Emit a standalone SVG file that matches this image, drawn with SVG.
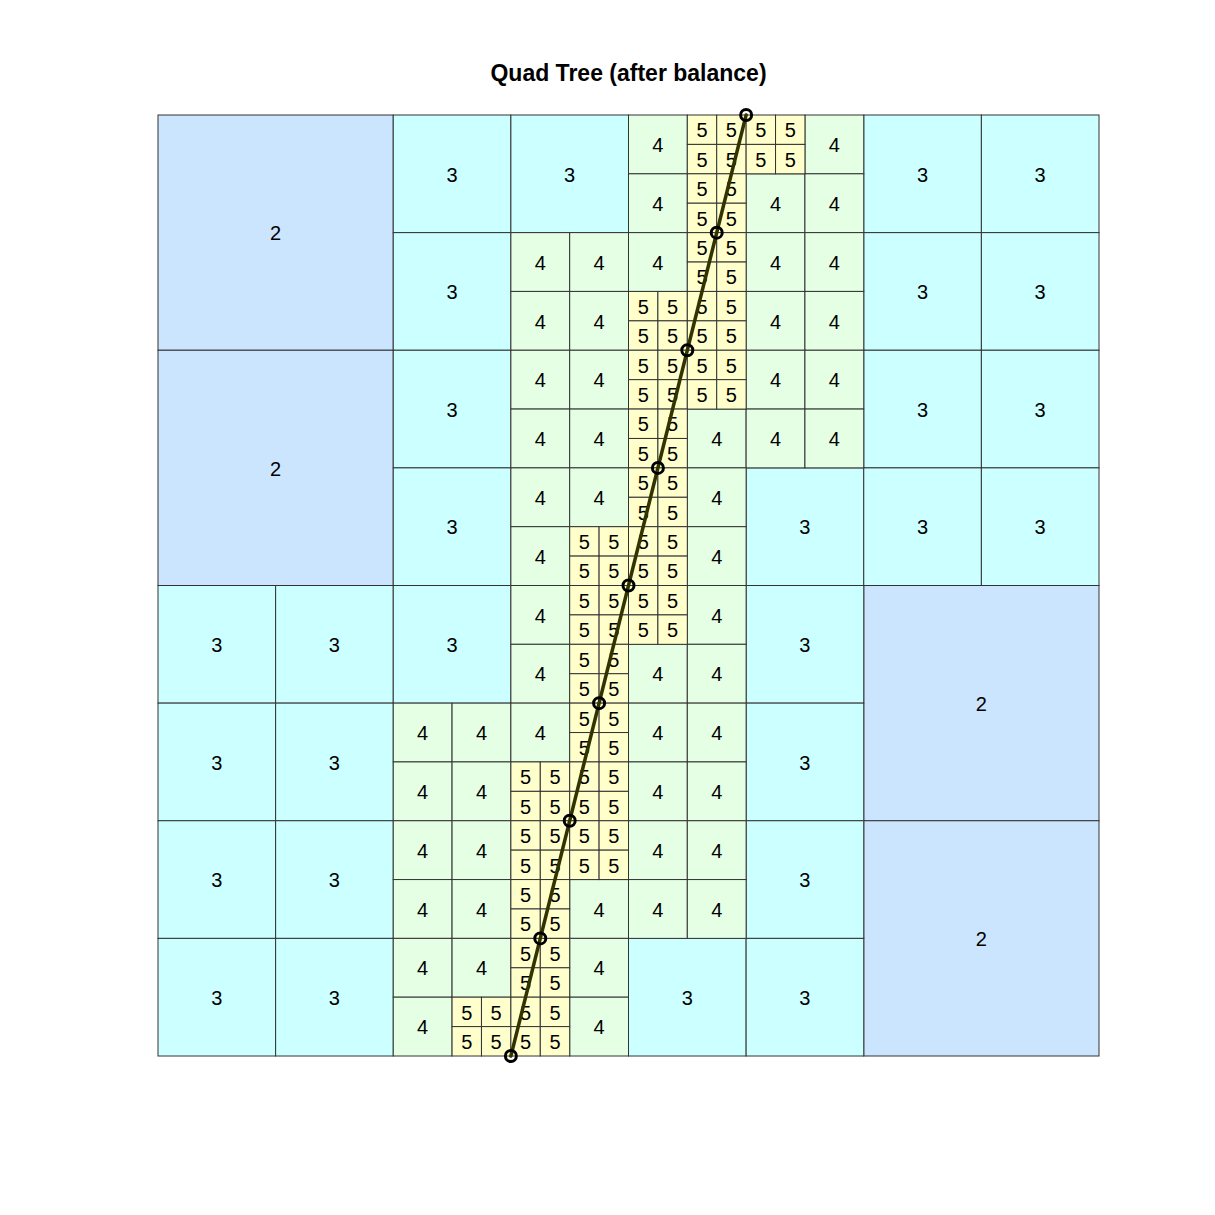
<svg xmlns="http://www.w3.org/2000/svg" width="1215" height="1215" viewBox="0 0 1215 1215">
<style>
text{font-family:"Liberation Sans",Arial,sans-serif;font-size:20px;text-anchor:middle;fill:#000}
.title{font-size:23px;font-weight:bold}
.cell{stroke:#333;stroke-width:1}
.bg{fill:#fff;stroke:none}
.l2{fill:#cce5ff}.l3{fill:#ccffff}.l4{fill:#e5ffe5}.l5{fill:#ffffcc}
.path{fill:none;stroke:#333300;stroke-width:3.5;stroke-linecap:round}
.pt{fill:none;stroke:#000;stroke-width:3}
</style>
<rect class="bg" x="0" y="0" width="1215" height="1215"/>
<text class="title" x="628.5" y="81">Quad Tree (after balance)</text>
<g id="level2">
<g id="n2_0_0" transform="translate(158,115)"><rect class="cell l2" width="235.25" height="235.25"/><text x="117.63" y="125.33">2</text></g>
<g id="n2_0_8" transform="translate(158,350.25)"><rect class="cell l2" width="235.25" height="235.25"/><text x="117.63" y="125.33">2</text></g>
<g id="n2_24_16" transform="translate(863.75,585.5)"><rect class="cell l2" width="235.25" height="235.25"/><text x="117.63" y="125.33">2</text></g>
<g id="n2_24_24" transform="translate(863.75,820.75)"><rect class="cell l2" width="235.25" height="235.25"/><text x="117.63" y="125.33">2</text></g>
</g>
<g id="level3">
<g id="n3_8_0" transform="translate(393.25,115)"><rect class="cell l3" width="117.63" height="117.63"/><text x="58.81" y="66.51">3</text></g>
<g id="n3_12_0" transform="translate(510.88,115)"><rect class="cell l3" width="117.63" height="117.63"/><text x="58.81" y="66.51">3</text></g>
<g id="n3_24_0" transform="translate(863.75,115)"><rect class="cell l3" width="117.63" height="117.63"/><text x="58.81" y="66.51">3</text></g>
<g id="n3_28_0" transform="translate(981.38,115)"><rect class="cell l3" width="117.63" height="117.63"/><text x="58.81" y="66.51">3</text></g>
<g id="n3_8_4" transform="translate(393.25,232.63)"><rect class="cell l3" width="117.63" height="117.63"/><text x="58.81" y="66.51">3</text></g>
<g id="n3_24_4" transform="translate(863.75,232.63)"><rect class="cell l3" width="117.63" height="117.63"/><text x="58.81" y="66.51">3</text></g>
<g id="n3_28_4" transform="translate(981.38,232.63)"><rect class="cell l3" width="117.63" height="117.63"/><text x="58.81" y="66.51">3</text></g>
<g id="n3_8_8" transform="translate(393.25,350.25)"><rect class="cell l3" width="117.63" height="117.63"/><text x="58.81" y="66.51">3</text></g>
<g id="n3_24_8" transform="translate(863.75,350.25)"><rect class="cell l3" width="117.63" height="117.63"/><text x="58.81" y="66.51">3</text></g>
<g id="n3_28_8" transform="translate(981.38,350.25)"><rect class="cell l3" width="117.63" height="117.63"/><text x="58.81" y="66.51">3</text></g>
<g id="n3_8_12" transform="translate(393.25,467.88)"><rect class="cell l3" width="117.63" height="117.63"/><text x="58.81" y="66.51">3</text></g>
<g id="n3_20_12" transform="translate(746.13,467.88)"><rect class="cell l3" width="117.63" height="117.63"/><text x="58.81" y="66.51">3</text></g>
<g id="n3_24_12" transform="translate(863.75,467.88)"><rect class="cell l3" width="117.63" height="117.63"/><text x="58.81" y="66.51">3</text></g>
<g id="n3_28_12" transform="translate(981.38,467.88)"><rect class="cell l3" width="117.63" height="117.63"/><text x="58.81" y="66.51">3</text></g>
<g id="n3_0_16" transform="translate(158,585.5)"><rect class="cell l3" width="117.63" height="117.63"/><text x="58.81" y="66.51">3</text></g>
<g id="n3_4_16" transform="translate(275.63,585.5)"><rect class="cell l3" width="117.63" height="117.63"/><text x="58.81" y="66.51">3</text></g>
<g id="n3_8_16" transform="translate(393.25,585.5)"><rect class="cell l3" width="117.63" height="117.63"/><text x="58.81" y="66.51">3</text></g>
<g id="n3_20_16" transform="translate(746.13,585.5)"><rect class="cell l3" width="117.63" height="117.63"/><text x="58.81" y="66.51">3</text></g>
<g id="n3_0_20" transform="translate(158,703.13)"><rect class="cell l3" width="117.63" height="117.63"/><text x="58.81" y="66.51">3</text></g>
<g id="n3_4_20" transform="translate(275.63,703.13)"><rect class="cell l3" width="117.63" height="117.63"/><text x="58.81" y="66.51">3</text></g>
<g id="n3_20_20" transform="translate(746.13,703.13)"><rect class="cell l3" width="117.63" height="117.63"/><text x="58.81" y="66.51">3</text></g>
<g id="n3_0_24" transform="translate(158,820.75)"><rect class="cell l3" width="117.63" height="117.63"/><text x="58.81" y="66.51">3</text></g>
<g id="n3_4_24" transform="translate(275.63,820.75)"><rect class="cell l3" width="117.63" height="117.63"/><text x="58.81" y="66.51">3</text></g>
<g id="n3_20_24" transform="translate(746.13,820.75)"><rect class="cell l3" width="117.63" height="117.63"/><text x="58.81" y="66.51">3</text></g>
<g id="n3_0_28" transform="translate(158,938.38)"><rect class="cell l3" width="117.63" height="117.63"/><text x="58.81" y="66.51">3</text></g>
<g id="n3_4_28" transform="translate(275.63,938.38)"><rect class="cell l3" width="117.63" height="117.63"/><text x="58.81" y="66.51">3</text></g>
<g id="n3_16_28" transform="translate(628.5,938.38)"><rect class="cell l3" width="117.63" height="117.63"/><text x="58.81" y="66.51">3</text></g>
<g id="n3_20_28" transform="translate(746.13,938.38)"><rect class="cell l3" width="117.63" height="117.63"/><text x="58.81" y="66.51">3</text></g>
</g>
<g id="level4">
<g id="n4_16_0" transform="translate(628.5,115)"><rect class="cell l4" width="58.81" height="58.81"/><text x="29.41" y="37.11">4</text></g>
<g id="n4_22_0" transform="translate(804.94,115)"><rect class="cell l4" width="58.81" height="58.81"/><text x="29.41" y="37.11">4</text></g>
<g id="n4_16_2" transform="translate(628.5,173.81)"><rect class="cell l4" width="58.81" height="58.81"/><text x="29.41" y="37.11">4</text></g>
<g id="n4_20_2" transform="translate(746.13,173.81)"><rect class="cell l4" width="58.81" height="58.81"/><text x="29.41" y="37.11">4</text></g>
<g id="n4_22_2" transform="translate(804.94,173.81)"><rect class="cell l4" width="58.81" height="58.81"/><text x="29.41" y="37.11">4</text></g>
<g id="n4_12_4" transform="translate(510.88,232.63)"><rect class="cell l4" width="58.81" height="58.81"/><text x="29.41" y="37.11">4</text></g>
<g id="n4_14_4" transform="translate(569.69,232.63)"><rect class="cell l4" width="58.81" height="58.81"/><text x="29.41" y="37.11">4</text></g>
<g id="n4_16_4" transform="translate(628.5,232.63)"><rect class="cell l4" width="58.81" height="58.81"/><text x="29.41" y="37.11">4</text></g>
<g id="n4_20_4" transform="translate(746.13,232.63)"><rect class="cell l4" width="58.81" height="58.81"/><text x="29.41" y="37.11">4</text></g>
<g id="n4_22_4" transform="translate(804.94,232.63)"><rect class="cell l4" width="58.81" height="58.81"/><text x="29.41" y="37.11">4</text></g>
<g id="n4_12_6" transform="translate(510.88,291.44)"><rect class="cell l4" width="58.81" height="58.81"/><text x="29.41" y="37.11">4</text></g>
<g id="n4_14_6" transform="translate(569.69,291.44)"><rect class="cell l4" width="58.81" height="58.81"/><text x="29.41" y="37.11">4</text></g>
<g id="n4_20_6" transform="translate(746.13,291.44)"><rect class="cell l4" width="58.81" height="58.81"/><text x="29.41" y="37.11">4</text></g>
<g id="n4_22_6" transform="translate(804.94,291.44)"><rect class="cell l4" width="58.81" height="58.81"/><text x="29.41" y="37.11">4</text></g>
<g id="n4_12_8" transform="translate(510.88,350.25)"><rect class="cell l4" width="58.81" height="58.81"/><text x="29.41" y="37.11">4</text></g>
<g id="n4_14_8" transform="translate(569.69,350.25)"><rect class="cell l4" width="58.81" height="58.81"/><text x="29.41" y="37.11">4</text></g>
<g id="n4_20_8" transform="translate(746.13,350.25)"><rect class="cell l4" width="58.81" height="58.81"/><text x="29.41" y="37.11">4</text></g>
<g id="n4_22_8" transform="translate(804.94,350.25)"><rect class="cell l4" width="58.81" height="58.81"/><text x="29.41" y="37.11">4</text></g>
<g id="n4_12_10" transform="translate(510.88,409.06)"><rect class="cell l4" width="58.81" height="58.81"/><text x="29.41" y="37.11">4</text></g>
<g id="n4_14_10" transform="translate(569.69,409.06)"><rect class="cell l4" width="58.81" height="58.81"/><text x="29.41" y="37.11">4</text></g>
<g id="n4_18_10" transform="translate(687.31,409.06)"><rect class="cell l4" width="58.81" height="58.81"/><text x="29.41" y="37.11">4</text></g>
<g id="n4_20_10" transform="translate(746.13,409.06)"><rect class="cell l4" width="58.81" height="58.81"/><text x="29.41" y="37.11">4</text></g>
<g id="n4_22_10" transform="translate(804.94,409.06)"><rect class="cell l4" width="58.81" height="58.81"/><text x="29.41" y="37.11">4</text></g>
<g id="n4_12_12" transform="translate(510.88,467.88)"><rect class="cell l4" width="58.81" height="58.81"/><text x="29.41" y="37.11">4</text></g>
<g id="n4_14_12" transform="translate(569.69,467.88)"><rect class="cell l4" width="58.81" height="58.81"/><text x="29.41" y="37.11">4</text></g>
<g id="n4_18_12" transform="translate(687.31,467.88)"><rect class="cell l4" width="58.81" height="58.81"/><text x="29.41" y="37.11">4</text></g>
<g id="n4_12_14" transform="translate(510.88,526.69)"><rect class="cell l4" width="58.81" height="58.81"/><text x="29.41" y="37.11">4</text></g>
<g id="n4_18_14" transform="translate(687.31,526.69)"><rect class="cell l4" width="58.81" height="58.81"/><text x="29.41" y="37.11">4</text></g>
<g id="n4_12_16" transform="translate(510.88,585.5)"><rect class="cell l4" width="58.81" height="58.81"/><text x="29.41" y="37.11">4</text></g>
<g id="n4_18_16" transform="translate(687.31,585.5)"><rect class="cell l4" width="58.81" height="58.81"/><text x="29.41" y="37.11">4</text></g>
<g id="n4_12_18" transform="translate(510.88,644.31)"><rect class="cell l4" width="58.81" height="58.81"/><text x="29.41" y="37.11">4</text></g>
<g id="n4_16_18" transform="translate(628.5,644.31)"><rect class="cell l4" width="58.81" height="58.81"/><text x="29.41" y="37.11">4</text></g>
<g id="n4_18_18" transform="translate(687.31,644.31)"><rect class="cell l4" width="58.81" height="58.81"/><text x="29.41" y="37.11">4</text></g>
<g id="n4_8_20" transform="translate(393.25,703.13)"><rect class="cell l4" width="58.81" height="58.81"/><text x="29.41" y="37.11">4</text></g>
<g id="n4_10_20" transform="translate(452.06,703.13)"><rect class="cell l4" width="58.81" height="58.81"/><text x="29.41" y="37.11">4</text></g>
<g id="n4_12_20" transform="translate(510.88,703.13)"><rect class="cell l4" width="58.81" height="58.81"/><text x="29.41" y="37.11">4</text></g>
<g id="n4_16_20" transform="translate(628.5,703.13)"><rect class="cell l4" width="58.81" height="58.81"/><text x="29.41" y="37.11">4</text></g>
<g id="n4_18_20" transform="translate(687.31,703.13)"><rect class="cell l4" width="58.81" height="58.81"/><text x="29.41" y="37.11">4</text></g>
<g id="n4_8_22" transform="translate(393.25,761.94)"><rect class="cell l4" width="58.81" height="58.81"/><text x="29.41" y="37.11">4</text></g>
<g id="n4_10_22" transform="translate(452.06,761.94)"><rect class="cell l4" width="58.81" height="58.81"/><text x="29.41" y="37.11">4</text></g>
<g id="n4_16_22" transform="translate(628.5,761.94)"><rect class="cell l4" width="58.81" height="58.81"/><text x="29.41" y="37.11">4</text></g>
<g id="n4_18_22" transform="translate(687.31,761.94)"><rect class="cell l4" width="58.81" height="58.81"/><text x="29.41" y="37.11">4</text></g>
<g id="n4_8_24" transform="translate(393.25,820.75)"><rect class="cell l4" width="58.81" height="58.81"/><text x="29.41" y="37.11">4</text></g>
<g id="n4_10_24" transform="translate(452.06,820.75)"><rect class="cell l4" width="58.81" height="58.81"/><text x="29.41" y="37.11">4</text></g>
<g id="n4_16_24" transform="translate(628.5,820.75)"><rect class="cell l4" width="58.81" height="58.81"/><text x="29.41" y="37.11">4</text></g>
<g id="n4_18_24" transform="translate(687.31,820.75)"><rect class="cell l4" width="58.81" height="58.81"/><text x="29.41" y="37.11">4</text></g>
<g id="n4_8_26" transform="translate(393.25,879.56)"><rect class="cell l4" width="58.81" height="58.81"/><text x="29.41" y="37.11">4</text></g>
<g id="n4_10_26" transform="translate(452.06,879.56)"><rect class="cell l4" width="58.81" height="58.81"/><text x="29.41" y="37.11">4</text></g>
<g id="n4_14_26" transform="translate(569.69,879.56)"><rect class="cell l4" width="58.81" height="58.81"/><text x="29.41" y="37.11">4</text></g>
<g id="n4_16_26" transform="translate(628.5,879.56)"><rect class="cell l4" width="58.81" height="58.81"/><text x="29.41" y="37.11">4</text></g>
<g id="n4_18_26" transform="translate(687.31,879.56)"><rect class="cell l4" width="58.81" height="58.81"/><text x="29.41" y="37.11">4</text></g>
<g id="n4_8_28" transform="translate(393.25,938.38)"><rect class="cell l4" width="58.81" height="58.81"/><text x="29.41" y="37.11">4</text></g>
<g id="n4_10_28" transform="translate(452.06,938.38)"><rect class="cell l4" width="58.81" height="58.81"/><text x="29.41" y="37.11">4</text></g>
<g id="n4_14_28" transform="translate(569.69,938.38)"><rect class="cell l4" width="58.81" height="58.81"/><text x="29.41" y="37.11">4</text></g>
<g id="n4_8_30" transform="translate(393.25,997.19)"><rect class="cell l4" width="58.81" height="58.81"/><text x="29.41" y="37.11">4</text></g>
<g id="n4_14_30" transform="translate(569.69,997.19)"><rect class="cell l4" width="58.81" height="58.81"/><text x="29.41" y="37.11">4</text></g>
</g>
<g id="level5">
<g id="b5_18_0" transform="translate(687.31,115)"><rect class="cell l5" width="29.41" height="29.41"/><rect class="cell l5" x="29.41" width="29.41" height="29.41"/><rect class="cell l5" y="29.41" width="29.41" height="29.41"/><rect class="cell l5" x="29.41" y="29.41" width="29.41" height="29.41"/><text x="14.7" y="22.4">5</text><text x="44.11" y="22.4">5</text><text x="14.7" y="51.81">5</text><text x="44.11" y="51.81">5</text></g>
<g id="b5_20_0" transform="translate(746.13,115)"><rect class="cell l5" width="29.41" height="29.41"/><rect class="cell l5" x="29.41" width="29.41" height="29.41"/><rect class="cell l5" y="29.41" width="29.41" height="29.41"/><rect class="cell l5" x="29.41" y="29.41" width="29.41" height="29.41"/><text x="14.7" y="22.4">5</text><text x="44.11" y="22.4">5</text><text x="14.7" y="51.81">5</text><text x="44.11" y="51.81">5</text></g>
<g id="b5_18_2" transform="translate(687.31,173.81)"><rect class="cell l5" width="29.41" height="29.41"/><rect class="cell l5" x="29.41" width="29.41" height="29.41"/><rect class="cell l5" y="29.41" width="29.41" height="29.41"/><rect class="cell l5" x="29.41" y="29.41" width="29.41" height="29.41"/><text x="14.7" y="22.4">5</text><text x="44.11" y="22.4">5</text><text x="14.7" y="51.81">5</text><text x="44.11" y="51.81">5</text></g>
<g id="b5_18_4" transform="translate(687.31,232.63)"><rect class="cell l5" width="29.41" height="29.41"/><rect class="cell l5" x="29.41" width="29.41" height="29.41"/><rect class="cell l5" y="29.41" width="29.41" height="29.41"/><rect class="cell l5" x="29.41" y="29.41" width="29.41" height="29.41"/><text x="14.7" y="22.4">5</text><text x="44.11" y="22.4">5</text><text x="14.7" y="51.81">5</text><text x="44.11" y="51.81">5</text></g>
<g id="b5_16_6" transform="translate(628.5,291.44)"><rect class="cell l5" width="29.41" height="29.41"/><rect class="cell l5" x="29.41" width="29.41" height="29.41"/><rect class="cell l5" y="29.41" width="29.41" height="29.41"/><rect class="cell l5" x="29.41" y="29.41" width="29.41" height="29.41"/><text x="14.7" y="22.4">5</text><text x="44.11" y="22.4">5</text><text x="14.7" y="51.81">5</text><text x="44.11" y="51.81">5</text></g>
<g id="b5_18_6" transform="translate(687.31,291.44)"><rect class="cell l5" width="29.41" height="29.41"/><rect class="cell l5" x="29.41" width="29.41" height="29.41"/><rect class="cell l5" y="29.41" width="29.41" height="29.41"/><rect class="cell l5" x="29.41" y="29.41" width="29.41" height="29.41"/><text x="14.7" y="22.4">5</text><text x="44.11" y="22.4">5</text><text x="14.7" y="51.81">5</text><text x="44.11" y="51.81">5</text></g>
<g id="b5_16_8" transform="translate(628.5,350.25)"><rect class="cell l5" width="29.41" height="29.41"/><rect class="cell l5" x="29.41" width="29.41" height="29.41"/><rect class="cell l5" y="29.41" width="29.41" height="29.41"/><rect class="cell l5" x="29.41" y="29.41" width="29.41" height="29.41"/><text x="14.7" y="22.4">5</text><text x="44.11" y="22.4">5</text><text x="14.7" y="51.81">5</text><text x="44.11" y="51.81">5</text></g>
<g id="b5_18_8" transform="translate(687.31,350.25)"><rect class="cell l5" width="29.41" height="29.41"/><rect class="cell l5" x="29.41" width="29.41" height="29.41"/><rect class="cell l5" y="29.41" width="29.41" height="29.41"/><rect class="cell l5" x="29.41" y="29.41" width="29.41" height="29.41"/><text x="14.7" y="22.4">5</text><text x="44.11" y="22.4">5</text><text x="14.7" y="51.81">5</text><text x="44.11" y="51.81">5</text></g>
<g id="b5_16_10" transform="translate(628.5,409.06)"><rect class="cell l5" width="29.41" height="29.41"/><rect class="cell l5" x="29.41" width="29.41" height="29.41"/><rect class="cell l5" y="29.41" width="29.41" height="29.41"/><rect class="cell l5" x="29.41" y="29.41" width="29.41" height="29.41"/><text x="14.7" y="22.4">5</text><text x="44.11" y="22.4">5</text><text x="14.7" y="51.81">5</text><text x="44.11" y="51.81">5</text></g>
<g id="b5_16_12" transform="translate(628.5,467.88)"><rect class="cell l5" width="29.41" height="29.41"/><rect class="cell l5" x="29.41" width="29.41" height="29.41"/><rect class="cell l5" y="29.41" width="29.41" height="29.41"/><rect class="cell l5" x="29.41" y="29.41" width="29.41" height="29.41"/><text x="14.7" y="22.4">5</text><text x="44.11" y="22.4">5</text><text x="14.7" y="51.81">5</text><text x="44.11" y="51.81">5</text></g>
<g id="b5_14_14" transform="translate(569.69,526.69)"><rect class="cell l5" width="29.41" height="29.41"/><rect class="cell l5" x="29.41" width="29.41" height="29.41"/><rect class="cell l5" y="29.41" width="29.41" height="29.41"/><rect class="cell l5" x="29.41" y="29.41" width="29.41" height="29.41"/><text x="14.7" y="22.4">5</text><text x="44.11" y="22.4">5</text><text x="14.7" y="51.81">5</text><text x="44.11" y="51.81">5</text></g>
<g id="b5_16_14" transform="translate(628.5,526.69)"><rect class="cell l5" width="29.41" height="29.41"/><rect class="cell l5" x="29.41" width="29.41" height="29.41"/><rect class="cell l5" y="29.41" width="29.41" height="29.41"/><rect class="cell l5" x="29.41" y="29.41" width="29.41" height="29.41"/><text x="14.7" y="22.4">5</text><text x="44.11" y="22.4">5</text><text x="14.7" y="51.81">5</text><text x="44.11" y="51.81">5</text></g>
<g id="b5_14_16" transform="translate(569.69,585.5)"><rect class="cell l5" width="29.41" height="29.41"/><rect class="cell l5" x="29.41" width="29.41" height="29.41"/><rect class="cell l5" y="29.41" width="29.41" height="29.41"/><rect class="cell l5" x="29.41" y="29.41" width="29.41" height="29.41"/><text x="14.7" y="22.4">5</text><text x="44.11" y="22.4">5</text><text x="14.7" y="51.81">5</text><text x="44.11" y="51.81">5</text></g>
<g id="b5_16_16" transform="translate(628.5,585.5)"><rect class="cell l5" width="29.41" height="29.41"/><rect class="cell l5" x="29.41" width="29.41" height="29.41"/><rect class="cell l5" y="29.41" width="29.41" height="29.41"/><rect class="cell l5" x="29.41" y="29.41" width="29.41" height="29.41"/><text x="14.7" y="22.4">5</text><text x="44.11" y="22.4">5</text><text x="14.7" y="51.81">5</text><text x="44.11" y="51.81">5</text></g>
<g id="b5_14_18" transform="translate(569.69,644.31)"><rect class="cell l5" width="29.41" height="29.41"/><rect class="cell l5" x="29.41" width="29.41" height="29.41"/><rect class="cell l5" y="29.41" width="29.41" height="29.41"/><rect class="cell l5" x="29.41" y="29.41" width="29.41" height="29.41"/><text x="14.7" y="22.4">5</text><text x="44.11" y="22.4">5</text><text x="14.7" y="51.81">5</text><text x="44.11" y="51.81">5</text></g>
<g id="b5_14_20" transform="translate(569.69,703.13)"><rect class="cell l5" width="29.41" height="29.41"/><rect class="cell l5" x="29.41" width="29.41" height="29.41"/><rect class="cell l5" y="29.41" width="29.41" height="29.41"/><rect class="cell l5" x="29.41" y="29.41" width="29.41" height="29.41"/><text x="14.7" y="22.4">5</text><text x="44.11" y="22.4">5</text><text x="14.7" y="51.81">5</text><text x="44.11" y="51.81">5</text></g>
<g id="b5_12_22" transform="translate(510.88,761.94)"><rect class="cell l5" width="29.41" height="29.41"/><rect class="cell l5" x="29.41" width="29.41" height="29.41"/><rect class="cell l5" y="29.41" width="29.41" height="29.41"/><rect class="cell l5" x="29.41" y="29.41" width="29.41" height="29.41"/><text x="14.7" y="22.4">5</text><text x="44.11" y="22.4">5</text><text x="14.7" y="51.81">5</text><text x="44.11" y="51.81">5</text></g>
<g id="b5_14_22" transform="translate(569.69,761.94)"><rect class="cell l5" width="29.41" height="29.41"/><rect class="cell l5" x="29.41" width="29.41" height="29.41"/><rect class="cell l5" y="29.41" width="29.41" height="29.41"/><rect class="cell l5" x="29.41" y="29.41" width="29.41" height="29.41"/><text x="14.7" y="22.4">5</text><text x="44.11" y="22.4">5</text><text x="14.7" y="51.81">5</text><text x="44.11" y="51.81">5</text></g>
<g id="b5_12_24" transform="translate(510.88,820.75)"><rect class="cell l5" width="29.41" height="29.41"/><rect class="cell l5" x="29.41" width="29.41" height="29.41"/><rect class="cell l5" y="29.41" width="29.41" height="29.41"/><rect class="cell l5" x="29.41" y="29.41" width="29.41" height="29.41"/><text x="14.7" y="22.4">5</text><text x="44.11" y="22.4">5</text><text x="14.7" y="51.81">5</text><text x="44.11" y="51.81">5</text></g>
<g id="b5_14_24" transform="translate(569.69,820.75)"><rect class="cell l5" width="29.41" height="29.41"/><rect class="cell l5" x="29.41" width="29.41" height="29.41"/><rect class="cell l5" y="29.41" width="29.41" height="29.41"/><rect class="cell l5" x="29.41" y="29.41" width="29.41" height="29.41"/><text x="14.7" y="22.4">5</text><text x="44.11" y="22.4">5</text><text x="14.7" y="51.81">5</text><text x="44.11" y="51.81">5</text></g>
<g id="b5_12_26" transform="translate(510.88,879.56)"><rect class="cell l5" width="29.41" height="29.41"/><rect class="cell l5" x="29.41" width="29.41" height="29.41"/><rect class="cell l5" y="29.41" width="29.41" height="29.41"/><rect class="cell l5" x="29.41" y="29.41" width="29.41" height="29.41"/><text x="14.7" y="22.4">5</text><text x="44.11" y="22.4">5</text><text x="14.7" y="51.81">5</text><text x="44.11" y="51.81">5</text></g>
<g id="b5_12_28" transform="translate(510.88,938.38)"><rect class="cell l5" width="29.41" height="29.41"/><rect class="cell l5" x="29.41" width="29.41" height="29.41"/><rect class="cell l5" y="29.41" width="29.41" height="29.41"/><rect class="cell l5" x="29.41" y="29.41" width="29.41" height="29.41"/><text x="14.7" y="22.4">5</text><text x="44.11" y="22.4">5</text><text x="14.7" y="51.81">5</text><text x="44.11" y="51.81">5</text></g>
<g id="b5_10_30" transform="translate(452.06,997.19)"><rect class="cell l5" width="29.41" height="29.41"/><rect class="cell l5" x="29.41" width="29.41" height="29.41"/><rect class="cell l5" y="29.41" width="29.41" height="29.41"/><rect class="cell l5" x="29.41" y="29.41" width="29.41" height="29.41"/><text x="14.7" y="22.4">5</text><text x="44.11" y="22.4">5</text><text x="14.7" y="51.81">5</text><text x="44.11" y="51.81">5</text></g>
<g id="b5_12_30" transform="translate(510.88,997.19)"><rect class="cell l5" width="29.41" height="29.41"/><rect class="cell l5" x="29.41" width="29.41" height="29.41"/><rect class="cell l5" y="29.41" width="29.41" height="29.41"/><rect class="cell l5" x="29.41" y="29.41" width="29.41" height="29.41"/><text x="14.7" y="22.4">5</text><text x="44.11" y="22.4">5</text><text x="14.7" y="51.81">5</text><text x="44.11" y="51.81">5</text></g>
</g>
<g id="connectors">
<path class="path" d="M510.88,1056 L746.13,115"/>
<circle class="pt" cx="510.88" cy="1056" r="5.5"/>
<circle class="pt" cx="540.28" cy="938.38" r="5.5"/>
<circle class="pt" cx="569.69" cy="820.75" r="5.5"/>
<circle class="pt" cx="599.09" cy="703.13" r="5.5"/>
<circle class="pt" cx="628.5" cy="585.5" r="5.5"/>
<circle class="pt" cx="657.91" cy="467.88" r="5.5"/>
<circle class="pt" cx="687.31" cy="350.25" r="5.5"/>
<circle class="pt" cx="716.72" cy="232.63" r="5.5"/>
<circle class="pt" cx="746.13" cy="115" r="5.5"/>
</g>
</svg>
